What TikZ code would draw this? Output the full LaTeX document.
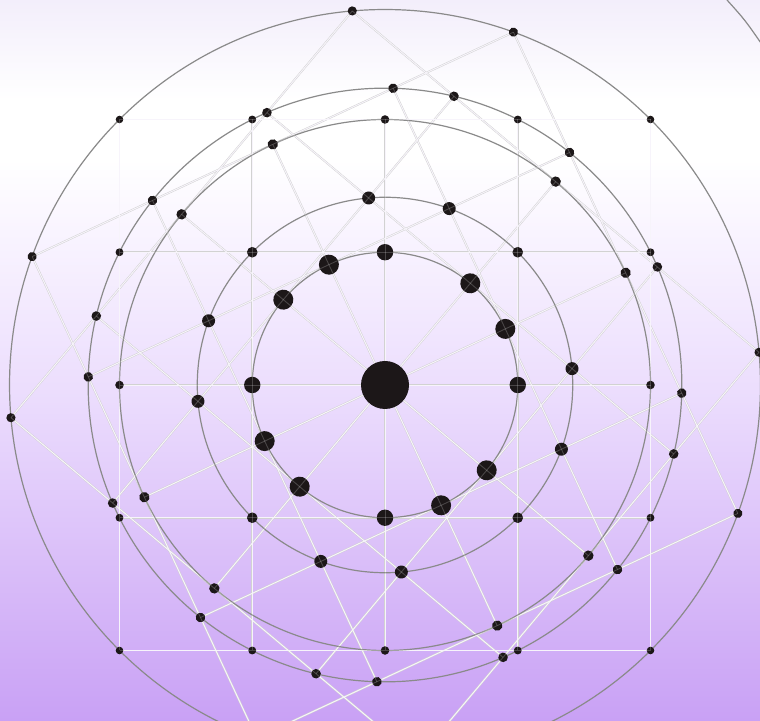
\documentclass[tikz,border=0pt]{standalone}
\usetikzlibrary{calc}
\definecolor{bgtop}{HTML}{F3EEFB}
\definecolor{bgwhite}{HTML}{FFFFFF}
\definecolor{bgpale}{HTML}{FAF6FF}
\definecolor{bgmid}{HTML}{EBDCFD}
\definecolor{bgbot}{HTML}{C9A1F5}
\definecolor{ringcol}{HTML}{8A8A8A}
\definecolor{lineedge}{HTML}{D2D2D2}
\definecolor{linecore}{HTML}{F6F2FA}
\definecolor{dotcol}{HTML}{1C1718}
\tikzset{
  ring/.style={draw=ringcol, line width=1.2pt},
  gridline/.style={draw=lineedge, line width=1.9pt},
  gridcore/.style={draw=linecore, line width=0.9pt},
  gridover/.style={draw=white, draw opacity=0.2, line width=0.9pt},
  dotfill/.style={fill=dotcol},
}
\begin{document}
\begin{tikzpicture}[x=1pt,y=1pt]
\useasboundingbox (0,0) rectangle (760,720);
% background
\shade[top color=bgtop, bottom color=bgwhite] (0,720) rectangle (760,620);
\fill[bgwhite] (0,620) rectangle (760,560);
\shade[top color=bgwhite, bottom color=bgpale] (0,560.5) rectangle (760,500);
\shade[top color=bgpale, bottom color=bgmid] (0,500.5) rectangle (760,320);
\shade[top color=bgmid, bottom color=bgbot] (0,320.5) rectangle (760,0);

\coordinate (C) at (385,335);
\def\u{132.75}

% rotated square grids (lines)
\foreach \rot in {0,25,50} {
  \begin{scope}[shift={(C)}, rotate=\rot]
    \foreach \k in {-2,...,2} {
      \coordinate (g\rot v\k a) at (\k*\u,-2*\u);
      \coordinate (g\rot v\k b) at (\k*\u,2*\u);
      \coordinate (g\rot h\k a) at (-2*\u,\k*\u);
      \coordinate (g\rot h\k b) at (2*\u,\k*\u);
      \draw[gridline] (g\rot v\k a) -- (g\rot v\k b);
      \draw[gridline] (g\rot h\k a) -- (g\rot h\k b);
    }
  \end{scope}
}
\foreach \rot in {0,25,50} {
  \foreach \k in {-2,...,2} {
    \draw[gridcore] (g\rot v\k a) -- (g\rot v\k b);
    \draw[gridcore] (g\rot h\k a) -- (g\rot h\k b);
  }
}

% rings
\draw[ring] (C) circle (\u);
\draw[ring] (C) circle ({sqrt(2)*\u});
\draw[ring] (C) circle ({2*\u});
\draw[ring] (C) circle ({sqrt(5)*\u});
\draw[ring] (C) circle ({2*sqrt(2)*\u});
% partial arc, top right
\coordinate (arcA) at (727,720);
\coordinate (arcB) at (763,674);
\draw[ring] (arcA) .. controls (745,700) .. (arcB);

% dots
\foreach \rot/\sc in {0/0.82,25/1,50/1} {
  \begin{scope}[shift={(C)}, rotate=\rot]
    \foreach \i in {-2,...,2} {
      \foreach \j in {-2,...,2} {
        \pgfmathtruncatemacro{\dd}{\i*\i+\j*\j}
        \ifnum\dd=0 \else
          \ifnum\dd=1 \def\rr{10}\fi
          \ifnum\dd=2 \def\rr{6.5}\fi
          \ifnum\dd=4 \def\rr{5.2}\fi
          \ifnum\dd=5 \def\rr{4.8}\fi
          \ifnum\dd=8 \def\rr{4.6}\fi
          \fill[dotfill] (\i*\u,\j*\u) circle ({\rr*\sc});
        \fi
      }
    }
  \end{scope}
}

% faint overlay of lines across dots
\foreach \rot in {0,25,50} {
  \foreach \k in {-2,...,2} {
    \draw[gridover] (g\rot v\k a) -- (g\rot v\k b);
    \draw[gridover] (g\rot h\k a) -- (g\rot h\k b);
  }
}
\node[circle, fill=dotcol, minimum size=48pt, inner sep=0pt] (hub) at (C) {};
\end{tikzpicture}
\end{document}
